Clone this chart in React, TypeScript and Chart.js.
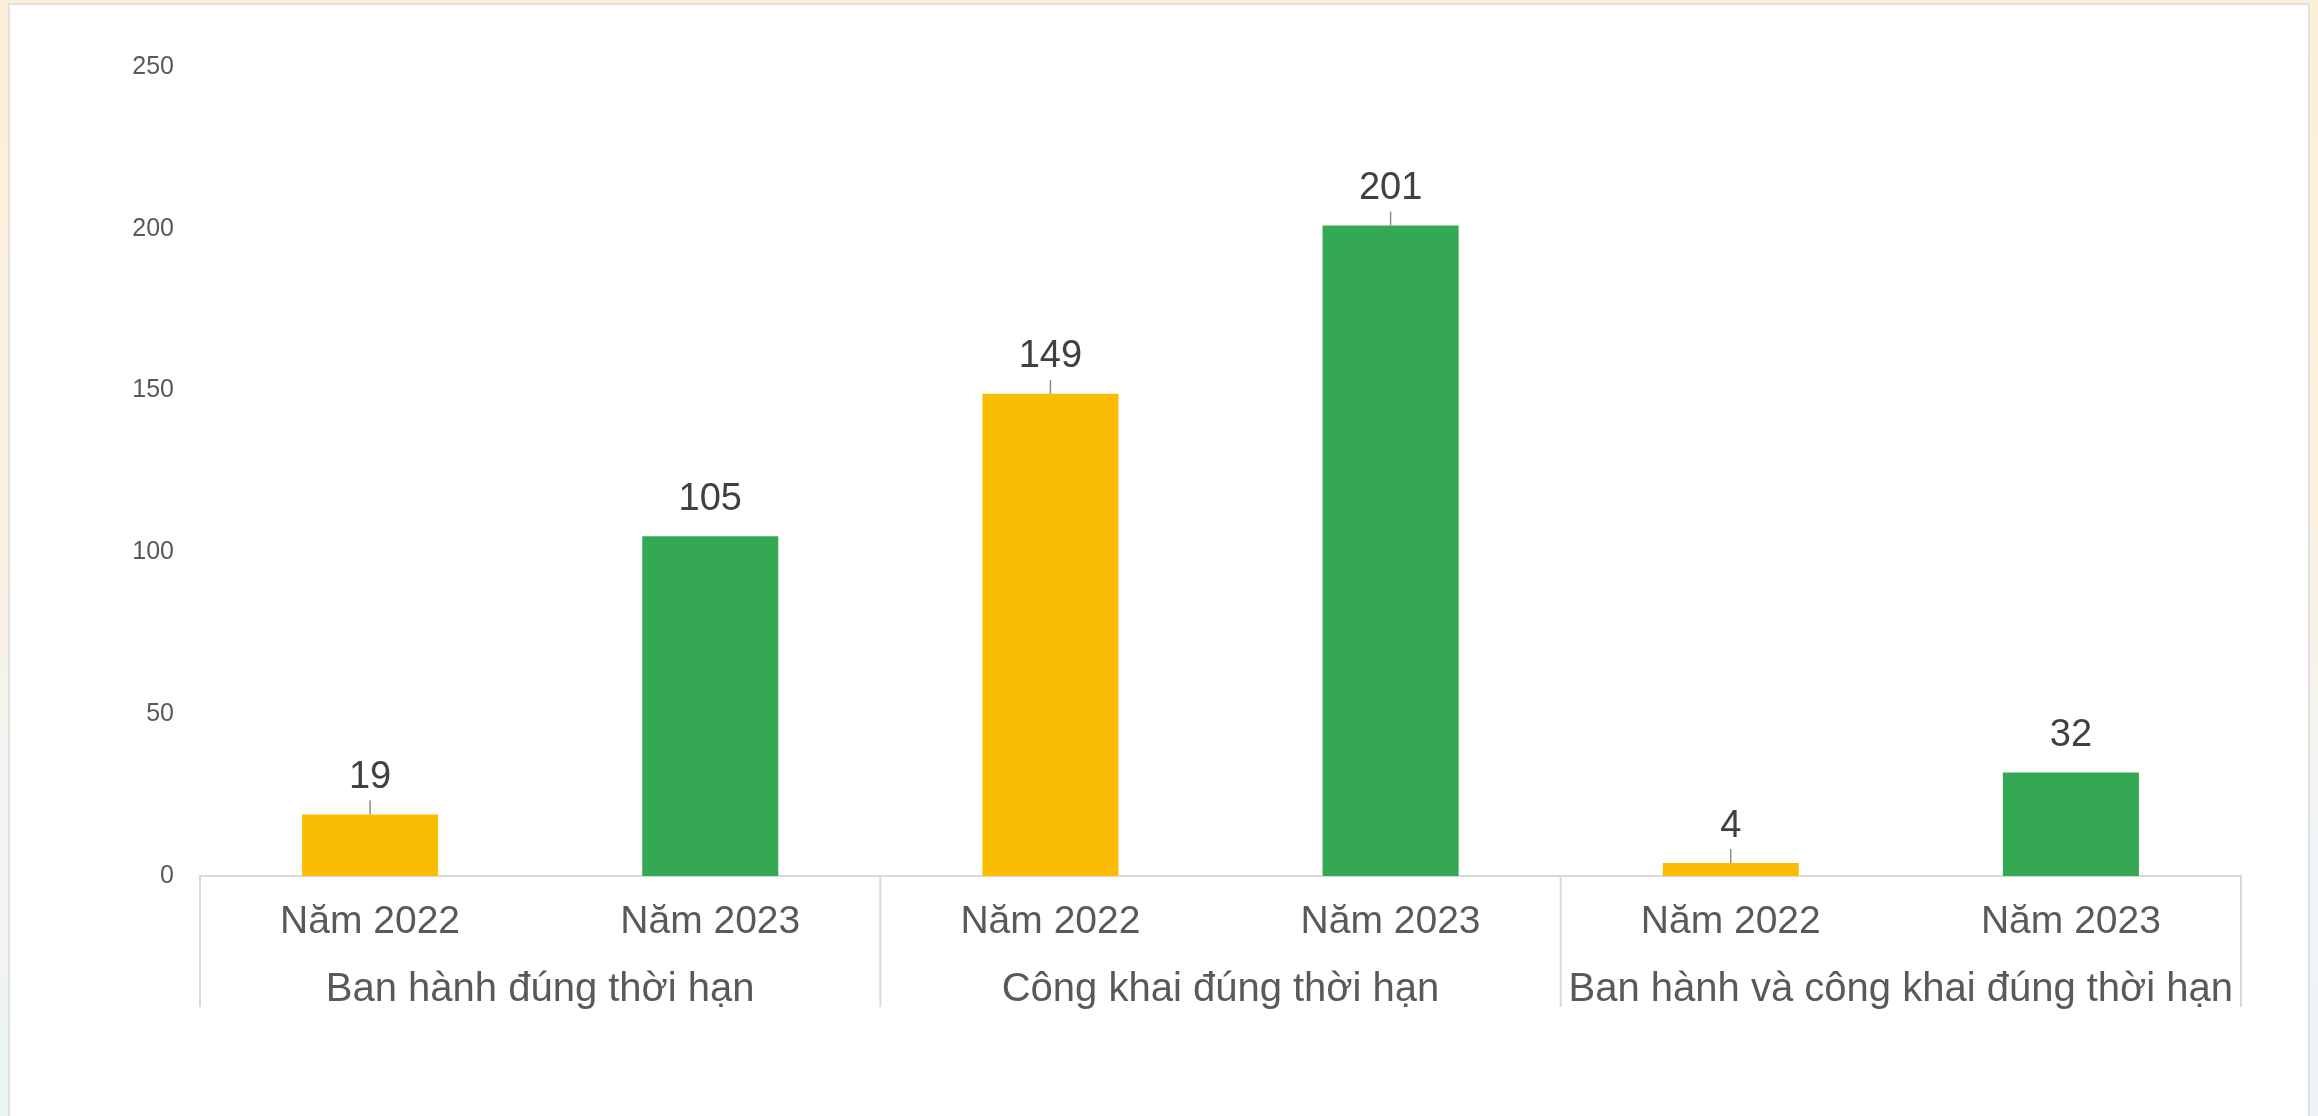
import React, { useEffect, useRef } from "react";
import { Chart, registerables } from "chart.js";

Chart.register(...registerables);

const yearLabels = ["Năm 2022", "Năm 2023", "Năm 2022", "Năm 2023", "Năm 2022", "Năm 2023"];
const groupLabels = ["Ban hành đúng thời hạn", "Công khai đúng thời hạn", "Ban hành và công khai đúng thời hạn"];
const values = [19, 105, 149, 201, 4, 32];
const barColors = ["#FBBC04", "#34A853", "#FBBC04", "#34A853", "#FBBC04", "#34A853"];
const leaderIdx = [0, 2, 3, 4];
const yTicks = [0, 50, 100, 150, 200, 250];

const FONT = "'Liberation Sans', Arial, sans-serif";
const W = 2318;
const H = 1116;

const overlayPlugin = {
  id: "overlay",
  afterDraw(chart: any) {
    const ctx = chart.ctx;
    const x = chart.scales.x;
    const area = chart.chartArea;
    const n = yearLabels.length;
    const step = x.getPixelForValue(1) - x.getPixelForValue(0);
    ctx.save();
    // separators
    ctx.strokeStyle = "#d9d9d9";
    ctx.lineWidth = 2;
    for (let g = 0; g <= groupLabels.length; g++) {
      const idx = g * 2;
      const px = idx < n ? x.getPixelForValue(idx) - step / 2 : x.getPixelForValue(n - 1) + step / 2;
      ctx.beginPath();
      ctx.moveTo(px, area.bottom);
      ctx.lineTo(px, area.bottom + 131);
      ctx.stroke();
    }
    // group labels
    ctx.fillStyle = "#595959";
    ctx.font = `40px ${FONT}`;
    ctx.textAlign = "center";
    ctx.textBaseline = "middle";
    groupLabels.forEach((lbl, g) => {
      const cx = (x.getPixelForValue(g * 2) + x.getPixelForValue(g * 2 + 1)) / 2;
      ctx.fillText(lbl, cx, area.bottom + 114);
    });
    // data labels
    const meta = chart.getDatasetMeta(0);
    ctx.font = `38px ${FONT}`;
    meta.data.forEach((bar: any, i: number) => {
      ctx.fillStyle = "#404040";
      ctx.fillText(String(values[i]), bar.x, bar.y - 37);
      if (leaderIdx.includes(i)) {
        ctx.strokeStyle = "#8c8c8c";
        ctx.lineWidth = 1.5;
        ctx.beginPath();
        ctx.moveTo(bar.x, bar.y - 14);
        ctx.lineTo(bar.x, bar.y);
        ctx.stroke();
      }
    });
    ctx.restore();
  },
};

export default function App() {
  const ref = useRef<HTMLCanvasElement>(null);
  useEffect(() => {
    if (!ref.current) return;
    const chart = new Chart(ref.current, {
      type: "bar",
      data: {
        labels: yearLabels,
        datasets: [
          {
            data: values,
            backgroundColor: barColors,
            borderWidth: 0,
            categoryPercentage: 1,
            barPercentage: 0.4,
          },
        ],
      },
      options: {
        responsive: false,
        animation: false,
        devicePixelRatio: 1,
        layout: { padding: { left: 0, top: 67, right: 77, bottom: 0 } },
        plugins: { legend: { display: false }, tooltip: { enabled: false } },
        scales: {
          x: {
            grid: { display: false },
            border: { display: true, color: "#d9d9d9", width: 2 },
            ticks: { color: "#595959", font: { family: FONT, size: 39 }, padding: 15, maxRotation: 0, autoSkip: false },
            afterFit: (s: any) => {
              s.height = 240;
            },
          },
          y: {
            min: yTicks[0],
            max: yTicks[yTicks.length - 1],
            grid: { display: false },
            border: { display: false },
            ticks: { stepSize: 50, color: "#595959", font: { family: FONT, size: 25 }, padding: 18 },
            afterFit: (s: any) => {
              s.width = 200;
            },
          },
        },
      },
      plugins: [overlayPlugin],
    });
    return () => chart.destroy();
  }, []);

  return (
    <div
      style={{
        position: "fixed",
        left: 0,
        top: 0,
        width: W,
        height: H,
        overflow: "hidden",
        background: "linear-gradient(180deg, #FCEFD8 0%, #FBF1DF 45%, #F1F5F7 75%, #EEF3F6 100%)",
      }}
    >
      <div
        style={{
          position: "absolute",
          left: 8,
          top: 3,
          width: 2302,
          height: 1130,
          background: "#ffffff",
          border: "2px solid #e0e0e0",
          boxSizing: "border-box",
        }}
      />
      <canvas ref={ref} width={W} height={H} style={{ position: "absolute", left: 0, top: 0, width: W, height: H }} />
    </div>
  );
}
